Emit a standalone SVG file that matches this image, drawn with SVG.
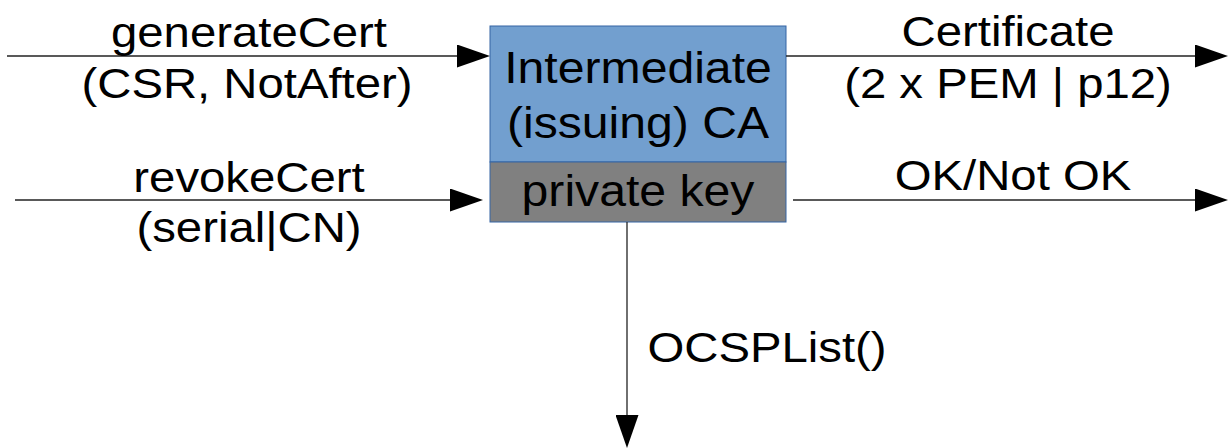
<svg xmlns="http://www.w3.org/2000/svg" width="1228" height="448" viewBox="0 0 1228 448">
<style>
text{font-family:"Liberation Sans",Arial,sans-serif;font-size:43px;fill:#000;text-anchor:middle}
.box{font-size:45px}
.conn{stroke:#222;stroke-width:1.3;fill:none}
</style>
<defs>
<marker id="ah" markerUnits="userSpaceOnUse" viewBox="0 0 33 23" markerWidth="33" markerHeight="23" refX="0" refY="11.5" orient="auto">
<path d="M0,0 L33,11.5 L0,23 Z" fill="#000"/>
</marker>
</defs>
<rect width="1228" height="448" fill="#fff"/>
<g id="ca">
<rect x="490" y="26" width="296" height="136" fill="#729fcf" stroke="#3465a4" stroke-width="1"/>
<text class="box" transform="translate(638,83) scale(1.07,1)">Intermediate</text>
<text class="box" transform="translate(638,138) scale(1.07,1)">(issuing) CA</text>
</g>
<g id="privkey">
<rect x="490" y="162" width="296" height="60" fill="#808080" stroke="#3465a4" stroke-width="1"/>
<text class="box" transform="translate(638,206) scale(1.07,1)">private key</text>
</g>
<g id="connectors">
<line class="conn" x1="7" y1="56" x2="457" y2="56" marker-end="url(#ah)"/>
<line class="conn" x1="15" y1="200" x2="450" y2="200" marker-end="url(#ah)"/>
<line class="conn" x1="786" y1="56" x2="1195" y2="56" marker-end="url(#ah)"/>
<line class="conn" x1="793" y1="200" x2="1195" y2="200" marker-end="url(#ah)"/>
<line class="conn" x1="627" y1="222" x2="627" y2="415" marker-end="url(#ah)"/>
</g>
<g id="labels">
<text transform="translate(249,47) scale(1.1,1)">generateCert</text>
<text transform="translate(247,98) scale(1.1,1)">(CSR, NotAfter)</text>
<text transform="translate(249,192) scale(1.1,1)">revokeCert</text>
<text transform="translate(249,242) scale(1.1,1)">(serial|CN)</text>
<text transform="translate(1008,46) scale(1.1,1)">Certificate</text>
<text transform="translate(1008,98) scale(1.1,1)">(2 x PEM | p12)</text>
<text transform="translate(1013,190) scale(1.1,1)">OK/Not OK</text>
<text transform="translate(767,362) scale(1.1,1)">OCSPList()</text>
</g>
</svg>
